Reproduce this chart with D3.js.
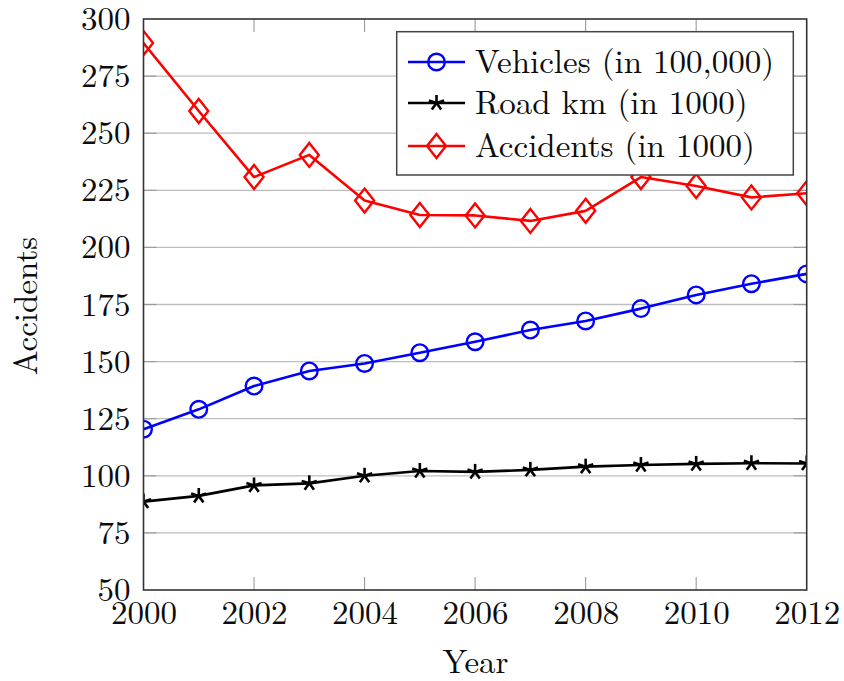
<!DOCTYPE html>
<html><head><meta charset="utf-8">
<script src="https://cdn.jsdelivr.net/npm/d3@7"></script>
<style>body{margin:0;background:#fff}svg{display:block}</style>
</head><body><svg id="c" width="844" height="681"></svg>
<script>
const years = [2000,2001,2002,2003,2004,2005,2006,2007,2008,2009,2010,2011,2012];
const vehicles = [120.4,129.1,139.3,145.9,149.2,153.9,158.7,163.8,167.8,173.2,179.2,184.1,188.4];
const roadKm = [88.7,91.2,95.8,96.7,100.0,102.1,101.7,102.6,104.0,104.7,105.2,105.5,105.4];
const accidents = [289.5,259.7,230.8,240.5,220.5,214.2,214.0,211.6,216.0,230.8,226.9,221.9,223.7];
const xTicks = [2000,2002,2004,2006,2008,2010,2012];
const yTicks = [50,75,100,125,150,175,200,225,250,275,300];
const seriesNames = ["Vehicles (in 100,000)","Road km (in 1000)","Accidents (in 1000)"];

const FONT='"Latin Modern Roman","CMU Serif","Liberation Serif",serif';
const svg = d3.select("#c");
const L=143.5,R=806.7,T=19,B=590;
const x = d3.scaleLinear().domain([2000,2012]).range([L,R]);
const y = d3.scaleLinear().domain([50,300]).range([B,T]);
const FS=33;
const TXT="#0d0d0d";

svg.append("g").selectAll("line").data(yTicks.slice(1,-1)).join("line")
  .attr("x1",L).attr("x2",R).attr("y1",d=>y(d)).attr("y2",d=>y(d))
  .attr("stroke","#bdbdbd").attr("stroke-width",1.3);
const tl=13;
const tk=svg.append("g").attr("stroke","#9a9a9a").attr("stroke-width",1.1);
xTicks.slice(1,-1).forEach(d=>{
  tk.append("line").attr("x1",x(d)).attr("x2",x(d)).attr("y1",B).attr("y2",B-tl);
  tk.append("line").attr("x1",x(d)).attr("x2",x(d)).attr("y1",T).attr("y2",T+tl);
});
yTicks.slice(1,-1).forEach(d=>{
  tk.append("line").attr("x1",L).attr("x2",L+tl).attr("y1",y(d)).attr("y2",y(d));
  tk.append("line").attr("x1",R).attr("x2",R-tl).attr("y1",y(d)).attr("y2",y(d));
});

const ax = svg.append("g").attr("transform",`translate(0,${B})`)
  .call(d3.axisBottom(x).tickValues(xTicks).tickFormat(d3.format("d")).tickSize(0).tickPadding(11));
ax.select(".domain").remove();
ax.selectAll("text").style("font-size",FS+"px").style("font-family",FONT).attr("fill",TXT);
const ay = svg.append("g").attr("transform",`translate(${L},0)`)
  .call(d3.axisLeft(y).tickValues(yTicks).tickSize(0).tickPadding(13));
ay.select(".domain").remove();
ay.selectAll("text").style("font-size",FS+"px").style("font-family",FONT).attr("fill",TXT);

const data=[{v:vehicles,c:"#0000ff",m:"circle"},{v:roadKm,c:"#000",m:"star"},{v:accidents,c:"#ff0000",m:"diamond"}];
const line=d3.line().x((d,i)=>x(years[i])).y(d=>y(d));
function marker(g,type,c,cx,cy){
  if(type==="circle") g.append("circle").attr("cx",cx).attr("cy",cy).attr("r",8.3).attr("fill","none").attr("stroke",c).attr("stroke-width",2.4);
  else if(type==="diamond") g.append("path").attr("d",`M${cx},${cy-12}L${cx+9.5},${cy}L${cx},${cy+12}L${cx-9.5},${cy}Z`).attr("fill","none").attr("stroke",c).attr("stroke-width",2.4);
  else { for(let k=0;k<5;k++){const a=-Math.PI/2+k*2*Math.PI/5; g.append("line").attr("x1",cx).attr("y1",cy).attr("x2",cx+8*Math.cos(a)).attr("y2",cy+8*Math.sin(a)).attr("stroke",c).attr("stroke-width",2.6);} }
}
svg.append("clipPath").attr("id","pc").append("rect").attr("x",L).attr("y",T-20).attr("width",R-L).attr("height",B-T+40);
const pg2=svg.append("g").attr("clip-path","url(#pc)");
data.forEach(s=>{
  pg2.append("path").attr("d",line(s.v)).attr("fill","none").attr("stroke",s.c).attr("stroke-width",2.6).attr("stroke-linejoin","round");
  const g=pg2.append("g");
  s.v.forEach((v,i)=>marker(g,s.m,s.c,x(years[i]),y(v)));
});

svg.append("rect").attr("x",L).attr("y",T).attr("width",R-L).attr("height",B-T).attr("fill","none").attr("stroke","#333").attr("stroke-width",1.6);

const lg=svg.append("g");
lg.append("rect").attr("x",396.7).attr("y",31.7).attr("width",396.6).attr("height",143.3).attr("fill","#fff").attr("stroke","#444").attr("stroke-width",1.5);
const rows=[62,103,146];
data.forEach((s,i)=>{
  lg.append("line").attr("x1",408).attr("x2",465).attr("y1",rows[i]).attr("y2",rows[i]).attr("stroke",s.c).attr("stroke-width",2.6);
  marker(lg,s.m,s.c,436.5,rows[i]);
  lg.append("text").attr("x",475).attr("y",rows[i]).attr("dy","0.33em").style("font-size",FS+"px").style("font-family",FONT).attr("fill",TXT).text(seriesNames[i]);
});

svg.append("text").attr("x",475.5).attr("y",673).attr("text-anchor","middle").style("font-size",FS+"px").style("font-family",FONT).attr("fill",TXT).text("Year");
svg.append("text").attr("transform","translate(37,306) rotate(-90)").attr("text-anchor","middle").style("font-size",FS+"px").style("font-family",FONT).attr("fill",TXT).text("Accidents");
</script></body></html>
